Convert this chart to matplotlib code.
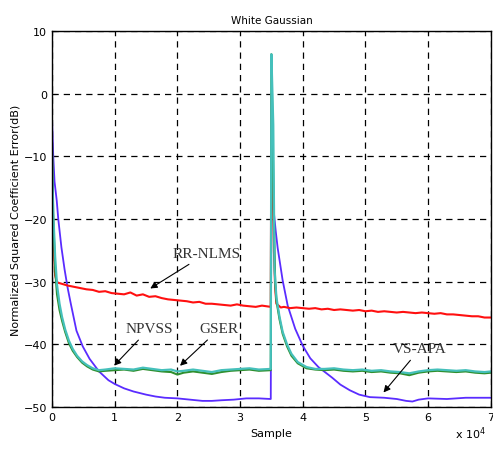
import matplotlib
matplotlib.use('Agg')
from matplotlib import pyplot as plt

# samples are in units of 1e4
red_x = [0, 0.02, 0.05, 0.08, 0.15, 0.25, 0.35, 0.45, 0.55, 0.65, 0.75, 0.85, 0.95,
         1.05, 1.15, 1.25, 1.35, 1.45, 1.55, 1.65, 1.75, 1.85, 1.95, 2.05, 2.15, 2.25,
         2.35, 2.45, 2.55, 2.65, 2.75, 2.85, 2.95, 3.05, 3.15, 3.25, 3.35, 3.49,
         3.50, 3.52, 3.54, 3.56, 3.58, 3.65, 3.7, 3.8, 3.9, 4.0, 4.1, 4.2, 4.3, 4.4,
         4.5, 4.6, 4.7, 4.8, 4.9, 5.0, 5.1, 5.2, 5.3, 5.4, 5.5, 5.6, 5.7, 5.8, 5.9,
         6.0, 6.1, 6.2, 6.3, 6.4, 6.5, 6.6, 6.7, 6.8, 6.9, 7.0]
red_y = [-10, -22, -29, -30.1, -30.3, -30.6, -30.8, -31.0, -31.2, -31.3, -31.6, -31.5, -31.8,
         -31.9, -32.0, -31.7, -32.2, -32.0, -32.4, -32.3, -32.6, -32.8, -32.9, -33.0, -33.1, -33.3,
         -33.2, -33.5, -33.5, -33.6, -33.7, -33.8, -33.6, -33.8, -33.9, -34.0, -33.8, -34.0,
         0, -12, -25, -31, -33.5, -34.1, -34.0, -34.2, -34.1, -34.2, -34.3, -34.2, -34.4, -34.3,
         -34.5, -34.4, -34.5, -34.6, -34.5, -34.7, -34.6, -34.8, -34.7, -34.8, -34.9, -34.8, -34.9, -35.0, -34.9,
         -35.0, -35.1, -35.0, -35.2, -35.2, -35.3, -35.4, -35.5, -35.5, -35.7, -35.7]

green_x = [0, 0.02, 0.05, 0.08, 0.12, 0.16, 0.21, 0.27, 0.33, 0.4, 0.48, 0.56, 0.65, 0.75,
           0.85, 1.0, 1.15, 1.3, 1.45, 1.6, 1.75, 1.9, 2.0, 2.1, 2.25, 2.4, 2.55, 2.7, 2.85,
           3.0, 3.15, 3.3, 3.49, 3.50, 3.54, 3.56, 3.58, 3.63, 3.68, 3.75, 3.82, 3.92, 4.06,
           4.2, 4.35, 4.5, 4.65, 4.8, 4.95, 5.1, 5.25, 5.4, 5.55, 5.7, 5.85, 6.0, 6.15, 6.3,
           6.45, 6.6, 6.75, 6.9, 7.0]
green_y = [-8, -20, -28, -32, -34.5, -36.2, -38, -39.8, -41, -42, -42.9, -43.5, -44, -44.3,
           -44.2, -44.1, -44.0, -44.2, -43.9, -44.1, -44.3, -44.4, -44.8, -44.5, -44.3, -44.5, -44.7, -44.4, -44.2,
           -44.1, -44.0, -44.2, -44.1, 6.3, -20, -30, -33, -36, -38.3, -40.3, -41.8, -43, -43.8,
           -44.0, -44.1, -44.0, -44.2, -44.3, -44.2, -44.4, -44.3, -44.5, -44.6, -44.9, -44.5, -44.3, -44.2, -44.3,
           -44.4, -44.3, -44.5, -44.6, -44.5]

cyan_x = [0, 0.02, 0.05, 0.08, 0.12, 0.16, 0.21, 0.27, 0.33, 0.4, 0.48, 0.56, 0.65, 0.75,
          0.85, 1.0, 1.15, 1.3, 1.45, 1.6, 1.75, 1.9, 2.0, 2.1, 2.25, 2.4, 2.55, 2.7, 2.85,
          3.0, 3.15, 3.3, 3.49, 3.50, 3.53, 3.55, 3.58, 3.63, 3.68, 3.75, 3.82, 3.92, 4.06,
          4.2, 4.35, 4.5, 4.65, 4.8, 4.95, 5.1, 5.25, 5.4, 5.55, 5.7, 5.85, 6.0, 6.15, 6.3,
          6.45, 6.6, 6.75, 6.9, 7.0]
cyan_y = [-10, -19, -26, -30.5, -33.5, -35.6, -37.6, -39.4, -40.7, -41.8, -42.7, -43.3, -43.8, -44.1,
          -44.0, -43.8, -43.9, -44.0, -43.7, -43.9, -44.1, -44.0, -44.3, -44.2, -44.0, -44.2, -44.4, -44.1, -44.0,
          -43.9, -43.8, -44.0, -43.9, 6.3, -5, -28, -32.5, -35.6, -38, -40, -41.5, -42.8, -43.6,
          -43.9, -43.9, -43.8, -44.0, -44.1, -44.0, -44.2, -44.1, -44.3, -44.4, -44.6, -44.3, -44.1, -44.0, -44.1,
          -44.2, -44.1, -44.3, -44.4, -44.3]

blue_x = [0, 0.02, 0.04, 0.075, 0.1, 0.15, 0.2, 0.25, 0.3, 0.39, 0.49, 0.6, 0.75, 0.9, 1.0,
          1.15, 1.3, 1.5, 1.65, 1.8, 2.0, 2.2, 2.4, 2.55, 2.7, 2.9, 3.1, 3.3, 3.49, 3.50,
          3.53, 3.57, 3.6, 3.68, 3.76, 3.88, 4.0, 4.12, 4.25, 4.47, 4.6, 4.75, 4.9, 5.07,
          5.3, 5.5, 5.65, 5.75, 5.85, 6.0, 6.3, 6.6, 7.0]
blue_y = [-4, -10, -14, -17, -20, -24.5, -28, -31, -33.5, -37.8, -40.3, -42.3, -44.3, -45.7, -46.3,
          -47.0, -47.5, -48.0, -48.3, -48.5, -48.6, -48.8, -49.0, -49.0, -48.9, -48.8, -48.6, -48.6, -48.7, -15,
          -18, -22, -24.6, -29.8, -33.8, -37.5, -40.2, -42.2, -43.6, -45.3, -46.4, -47.3, -48.0, -48.4,
          -48.5, -48.7, -49.0, -49.1, -48.8, -48.6, -48.7, -48.5, -48.5]

x_ticks = [0, 1, 2, 3, 4, 5, 6, 7]
y_ticks = [-50, -40, -30, -20, -10, 0, 10]

fig = plt.figure(figsize=(4.93, 4.52), dpi=100)
ax = fig.add_axes([0.1055, 0.097, 0.89, 0.832])

ax.plot(blue_x, blue_y, color='#5a2cff', lw=1.3)
ax.plot(red_x, red_y, color='#ff1010', lw=1.5)
ax.plot(green_x, green_y, color='#2f8f2f', lw=1.5)
ax.plot(cyan_x, cyan_y, color='#45c0bb', lw=1.6)

ax.set_xlim(0, 7)
ax.set_ylim(-50, 10)
ax.set_xticks(x_ticks)
ax.set_yticks(y_ticks)
ax.grid(True, color='black', linestyle=(0, (5, 4)), linewidth=0.9)
ax.tick_params(direction='in', labelsize=8, length=3)
for s in ax.spines.values():
    s.set_linewidth(1.0)

ax.set_title('White Gaussian', fontsize=7.5, pad=6)
ax.set_xlabel('Sample', fontsize=8, labelpad=4)
ax.set_ylabel('Normalized Squared Coefficient Error(dB)', fontsize=8, labelpad=2)
fig.text(0.955, 0.03, r'x 10$^4$', fontsize=8, ha='center')

ann = dict(fontsize=11, family='Liberation Serif', color='#333333', ha='center', va='center')
arrow = dict(arrowstyle='-|>', color='black', lw=0.8, mutation_scale=10)
ax.annotate('RR-NLMS', xy=(1.53, -31.3), xytext=(2.46, -25.5), arrowprops=arrow, **ann)
ax.annotate('NPVSS', xy=(0.96, -43.7), xytext=(1.55, -37.5), arrowprops=arrow, **ann)
ax.annotate('GSER', xy=(2.01, -43.7), xytext=(2.67, -37.5), arrowprops=arrow, **ann)
ax.annotate('VS-APA', xy=(5.26, -48.0), xytext=(5.87, -40.7), arrowprops=arrow, **ann)

fig.savefig('out.png', dpi=100)
